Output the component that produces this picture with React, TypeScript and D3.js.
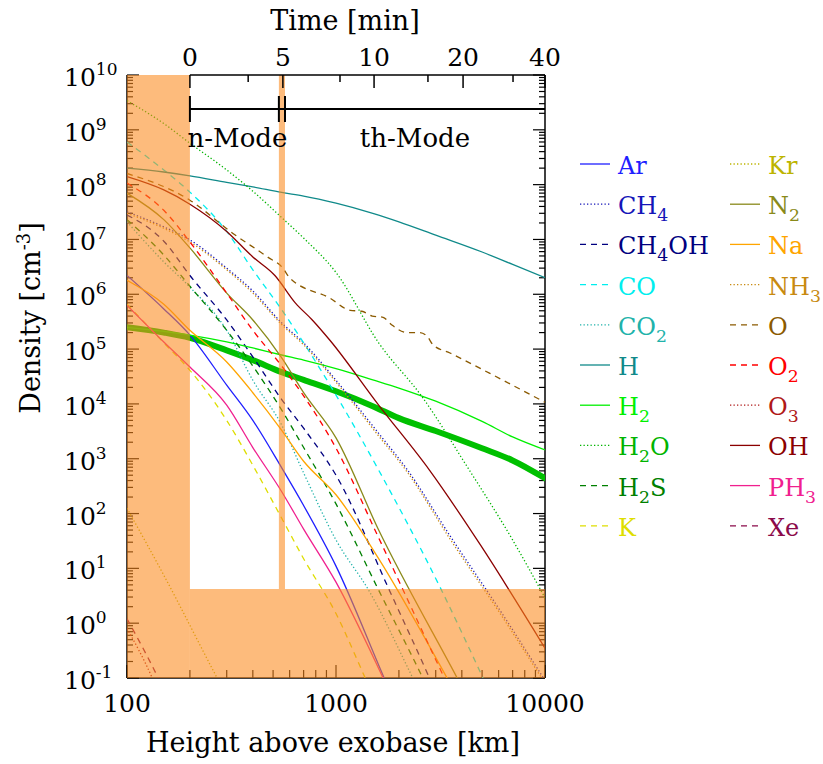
import React, { useEffect, useRef } from 'react'
import * as d3 from 'd3'

// density profiles: [height above exobase km, density cm^-3]
const ar = [[100, 2.2e6], [150, 5.4e5], [200, 1.8e5], [300, 2.2e4], [400, 5.0e3], [550, 6.8e2], [700, 1.4e2], [1000, 1.1e1], [1700, 0.1], [2000, 0.024]]
const ch4 = [[100, 3.2e7], [150, 1.7e7], [200, 9.8e6], [300, 3.0e6], [400, 1.15e6], [550, 3.0e5], [700, 1.3e5], [1000, 2.7e4], [1600, 2.9e3], [2200, 6.2e2], [3500, 4.0e1], [6100, 1.7], [10000, 0.09]]
const ch4oh = [[100, 2.8e7], [150, 9.3e6], [200, 2.2e6], [300, 3.4e5], [400, 7.2e4], [550, 1.2e4], [700, 3.6e3], [1000, 5.0e2], [1800, 4.0], [2800, 0.1], [3300, 0.024]]
const co = [[100, 6.0e8], [150, 1.85e8], [200, 7.3e7], [300, 1.4e7], [400, 2.8e6], [550, 5.2e5], [700, 1.3e5], [1000, 1.45e4], [1600, 6.2e2], [3150, 4.5], [5050, 0.1], [6100, 0.021]]
const co2 = [[100, 2.1e7], [150, 3.9e6], [200, 1.35e6], [300, 2.2e5], [400, 2.7e4], [550, 4.1e3], [700, 5.5e2], [1000, 3.3e1], [1450, 3.7], [2330, 0.1], [2800, 0.024]]
const h = [[100, 2.0e8], [150, 1.7e8], [200, 1.45e8], [300, 1.1e8], [400, 9.1e7], [550, 7.2e7], [700, 6.2e7], [1000, 4.6e7], [1500, 3.0e7], [2000, 2.1e7], [3000, 1.2e7], [5000, 5.9e6], [7000, 3.5e6], [10000, 2.0e6]]
const h2 = [[100, 2.5e5], [150, 2.1e5], [200, 1.8e5], [300, 1.35e5], [400, 1.05e5], [550, 7.8e4], [700, 6.3e4], [1000, 4.4e4], [1500, 2.75e4], [2000, 1.95e4], [3000, 1.12e4], [5000, 4.8e3], [7000, 2.5e3], [10000, 1.45e3]]
const h2o = [[100, 3.4e9], [150, 1.3e9], [200, 5.7e8], [300, 1.85e8], [400, 7.6e7], [550, 2.5e7], [700, 1.06e7], [1000, 2.5e6], [1600, 1.3e5], [2600, 1.3e4], [4200, 7.6e2], [7000, 3.3e1], [10000, 2.9]]
const h2oMonteCarlo = [[100, 2.5e5], [150, 2.0e5], [200, 1.6e5], [300, 9.5e4], [400, 6.3e4], [550, 3.8e4], [700, 2.75e4], [1000, 1.7e4], [1500, 9.1e3], [2000, 5.5e3], [3000, 3.2e3], [5000, 1.55e3], [7000, 9.3e2], [10000, 4.4e2]]
const h2s = [[100, 2.3e7], [150, 5.2e6], [200, 1.4e6], [300, 2.2e5], [400, 4.9e4], [550, 7.7e3], [700, 1.6e3], [1000, 1.5e2], [1600, 4.0], [2600, 0.1], [3100, 0.024]]
const k = [[100, 6.6e5], [150, 1.3e5], [200, 4.1e4], [300, 5.0e3], [400, 7.6e2], [550, 8.2e1], [700, 1.5e1], [1000, 1.5], [1380, 0.1], [1620, 0.026]]
const kr = [[100, 1.25e2], [150, 7.5], [270, 0.1], [330, 0.024]]
const n2 = [[100, 7.0e7], [150, 2.3e7], [200, 7.0e6], [300, 1.05e6], [400, 3.4e5], [550, 6.9e4], [700, 1.6e4], [1000, 2.4e3], [1600, 5.0e1], [3800, 0.1], [4900, 0.016]]
const na = [[100, 1.8e6], [150, 6.6e5], [200, 2.2e5], [300, 5.8e4], [400, 1.6e4], [550, 3.3e3], [700, 9.0e2], [1000, 2.2e2], [1600, 1.5e1], [3400, 0.1], [4400, 0.017]]
const nh3 = [[100, 3.0e7], [150, 1.6e7], [200, 9.0e6], [300, 2.8e6], [400, 1.05e6], [550, 2.8e5], [700, 1.2e5], [1000, 2.5e4], [1600, 2.6e3], [2200, 5.6e2], [3500, 3.5e1], [6100, 1.5], [10000, 0.08]]
const o = [[100, 1.6e8], [200, 5.2e7], [320, 1.3e7], [470, 4.8e6], [557, 3.0e6], [600, 2.0e6], [935, 8.5e5], [1170, 5.1e5], [1330, 4.9e5], [1490, 4.0e5], [1680, 3.8e5], [1850, 2.75e5], [2190, 2.0e5], [2520, 2.0e5], [2750, 1.65e5], [2910, 1.2e5], [3510, 8.5e4], [5450, 3.6e4], [10000, 1.07e4]]
const o2 = [[100, 1.07e8], [150, 3.4e7], [200, 9.0e6], [300, 1.05e6], [400, 2.2e5], [550, 4.9e4], [700, 1.4e4], [1000, 1.56e3], [1600, 3.6e1], [3300, 0.1], [4400, 0.01]]
const o3 = [[100, 0.8], [132, 0.1], [150, 0.03]]
const oh = [[100, 1.4e8], [150, 8.0e7], [200, 4.4e7], [300, 1.4e7], [400, 4.8e6], [510, 2.2e6], [640, 6.9e5], [770, 3.4e5], [935, 1.45e5], [1600, 9.5e3], [2800, 6.2e2], [4900, 2.7e1], [10000, 0.35]]
const ph3 = [[100, 6.3e5], [150, 1.35e5], [200, 4.7e4], [300, 9.5e3], [400, 1.6e3], [550, 2.5e2], [700, 5.2e1], [1000, 5.6], [1680, 0.1], [2000, 0.024]]
const xe = [[100, 1.2], [141, 0.1], [160, 0.036]]

const legendLeft = ['Ar', 'CH4', 'CH4OH', 'CO', 'CO2', 'H', 'H2', 'H2O', 'H2S', 'K']
const legendRight = ['Kr', 'N2', 'Na', 'NH3', 'O', 'O2', 'O3', 'OH', 'PH3', 'Xe']

// time since closest approach [min] vs height [km]
const timeMajor = [[0, 200], [5, 557], [10, 1521], [20, 4055], [40, 10000]]
const timeMinor = [[2.5, 380], [7.5, 1045], [15, 2754], [30, 7031]]

const heightLabels = [100, 1000, 10000]
const densityExponents = [-1, 0, 1, 2, 3, 4, 5, 6, 7, 8, 9, 10]

const preModeKm = [100, 200]
const gapKm = [533, 570]
const detectionLimit = 4.2

const species = [
  { name: 'Ar', data: ar, color: '#1f1fff', dash: 'solid' },
  { name: 'CH4', data: ch4, color: '#1515b8', dash: 'dot' },
  { name: 'CH4OH', data: ch4oh, color: '#000080', dash: 'dash' },
  { name: 'CO', data: co, color: '#00eeee', dash: 'dash' },
  { name: 'CO2', data: co2, color: '#20b2aa', dash: 'dot' },
  { name: 'H', data: h, color: '#108a8a', dash: 'solid' },
  { name: 'H2', data: h2, color: '#00f000', dash: 'solid' },
  { name: 'H2O', data: h2o, color: '#00b400', dash: 'dot' },
  { name: 'H2S', data: h2s, color: '#008000', dash: 'dash' },
  { name: 'K', data: k, color: '#dede00', dash: 'dash' },
  { name: 'Kr', data: kr, color: '#bdb400', dash: 'dot' },
  { name: 'N2', data: n2, color: '#8a8a1a', dash: 'solid' },
  { name: 'Na', data: na, color: '#ffa500', dash: 'solid' },
  { name: 'NH3', data: nh3, color: '#c88a10', dash: 'dot' },
  { name: 'O', data: o, color: '#8b5a00', dash: 'dash' },
  { name: 'O2', data: o2, color: '#ff0000', dash: 'dash' },
  { name: 'O3', data: o3, color: '#b01818', dash: 'dot' },
  { name: 'OH', data: oh, color: '#8b0000', dash: 'solid' },
  { name: 'PH3', data: ph3, color: '#f0208f', dash: 'solid' },
  { name: 'Xe', data: xe, color: '#8b0a4a', dash: 'dash' },
]

const dashes = { solid: null, dot: '1.3 2.2', dash: '6 5' }
const FONT = 'DejaVu Serif'

function chemText(sel, name, size) {
  const parts = name.match(/[A-Za-z]+|\d+/g)
  let low = false
  parts.forEach(p => {
    const num = /\d/.test(p)
    sel.append('tspan')
      .attr('dy', num ? (low ? 0 : 7) : (low ? -7 : 0))
      .attr('font-size', num ? size * 0.72 : size)
      .text(p)
    low = num
  })
}

export default function App() {
  const ref = useRef(null)

  useEffect(() => {
    const svg = d3.select(ref.current)
    svg.selectAll('*').remove()

    const left = 127, right = 545, top = 75, bottom = 678
    const x = d3.scaleLog().domain([100, 10000]).range([left, right])
    const y = d3.scaleLog().domain([0.1, 1e10]).range([bottom, top])

    svg.append('defs').append('clipPath').attr('id', 'plotclip')
      .append('rect').attr('x', left).attr('y', top).attr('width', right - left).attr('height', bottom - top)

    // frame (left/right/bottom); top line only over the time axis
    const axis = svg.append('g').attr('stroke', '#000').attr('stroke-width', 1.5)
    axis.append('line').attr('x1', left).attr('x2', left).attr('y1', top).attr('y2', bottom)
    axis.append('line').attr('x1', right).attr('x2', right).attr('y1', top).attr('y2', bottom)
    axis.append('line').attr('x1', left).attr('x2', right).attr('y1', bottom).attr('y2', bottom)

    const yMinor = []
    densityExponents.forEach(e => {
      if (e >= 10) return
      for (let m = 2; m <= 9; m++) yMinor.push(m * Math.pow(10, e))
    })
    const xMinor = []
    ;[2, 3].forEach(e => { for (let m = 2; m <= 9; m++) xMinor.push(m * Math.pow(10, e)) })

    const ticks = svg.append('g').attr('stroke', '#000').attr('stroke-width', 1.2)
    densityExponents.forEach(e => {
      const v = Math.pow(10, e)
      ticks.append('line').attr('x1', left).attr('x2', left + 12).attr('y1', y(v)).attr('y2', y(v))
      ticks.append('line').attr('x1', right).attr('x2', right - 12).attr('y1', y(v)).attr('y2', y(v))
    })
    yMinor.forEach(v => {
      ticks.append('line').attr('x1', left).attr('x2', left + 6).attr('y1', y(v)).attr('y2', y(v))
      ticks.append('line').attr('x1', right).attr('x2', right - 6).attr('y1', y(v)).attr('y2', y(v))
    })
    heightLabels.forEach(v => {
      ticks.append('line').attr('x1', x(v)).attr('x2', x(v)).attr('y1', bottom).attr('y2', bottom - 13)
    })
    xMinor.forEach(v => {
      ticks.append('line').attr('x1', x(v)).attr('x2', x(v)).attr('y1', bottom).attr('y2', bottom - 8)
    })

    // profiles
    const line = d3.line().x(d => x(d[0])).y(d => y(d[1])).curve(d3.curveMonotoneX)
    const plot = svg.append('g').attr('clip-path', 'url(#plotclip)')
    plot.append('path').datum(h2oMonteCarlo)
      .attr('d', line).attr('fill', 'none').attr('stroke', '#00c000').attr('stroke-width', 6)
      .attr('stroke-linecap', 'round')
    species.forEach(s => {
      plot.append('path').datum(s.data)
        .attr('d', line)
        .attr('fill', 'none')
        .attr('stroke', s.color)
        .attr('stroke-width', 1.3)
        .attr('stroke-dasharray', dashes[s.dash])
    })

    // excluded regions
    const shade = svg.append('g').attr('fill', '#fb8a1e').attr('fill-opacity', 0.58)
    shade.append('rect').attr('x', x(preModeKm[0])).attr('y', top)
      .attr('width', x(preModeKm[1]) - x(preModeKm[0])).attr('height', bottom - top)
    shade.append('rect').attr('x', x(gapKm[0])).attr('y', top)
      .attr('width', x(gapKm[1]) - x(gapKm[0])).attr('height', y(detectionLimit) - top)
    shade.append('rect').attr('x', x(preModeKm[1])).attr('y', y(detectionLimit))
      .attr('width', right - x(preModeKm[1])).attr('height', bottom - y(detectionLimit))

    // top time axis
    const tAxis = svg.append('g').attr('stroke', '#000').attr('stroke-width', 1.5)
    tAxis.append('line').attr('x1', x(timeMajor[0][1])).attr('x2', right).attr('y1', top).attr('y2', top)
    timeMajor.forEach(t => {
      tAxis.append('line').attr('x1', x(t[1])).attr('x2', x(t[1])).attr('y1', top).attr('y2', top + 13)
    })
    timeMinor.forEach(t => {
      tAxis.append('line').attr('x1', x(t[1])).attr('x2', x(t[1])).attr('y1', top).attr('y2', top + 7)
    })

    // mode bracket
    const br = svg.append('g').attr('stroke', '#000').attr('stroke-width', 2)
    const by = 109
    br.append('line').attr('x1', x(preModeKm[1])).attr('x2', right).attr('y1', by).attr('y2', by)
    ;[preModeKm[1], gapKm[0], gapKm[1]].forEach(v => {
      br.append('line').attr('x1', x(v)).attr('x2', x(v)).attr('y1', by - 13).attr('y2', by + 13)
    })

    const txt = svg.append('g').attr('font-family', FONT).attr('fill', '#000')
    txt.append('text').attr('x', (x(preModeKm[1]) + x(gapKm[1])) / 2).attr('y', 147)
      .attr('text-anchor', 'middle').attr('font-size', 26).text('n-Mode')
    txt.append('text').attr('x', (x(gapKm[1]) + right) / 2).attr('y', 147)
      .attr('text-anchor', 'middle').attr('font-size', 26).text('th-Mode')

    timeMajor.forEach(t => {
      txt.append('text').attr('x', x(t[1])).attr('y', 66).attr('text-anchor', 'middle')
        .attr('font-size', 25).text(t[0])
    })
    txt.append('text').attr('x', 345).attr('y', 30).attr('text-anchor', 'middle')
      .attr('font-size', 27).text('Time [min]')

    heightLabels.forEach(v => {
      txt.append('text').attr('x', x(v)).attr('y', 712).attr('text-anchor', 'middle')
        .attr('font-size', 25).text(v)
    })
    txt.append('text').attr('x', 333).attr('y', 752).attr('text-anchor', 'middle')
      .attr('font-size', 27).text('Height above exobase [km]')

    densityExponents.forEach(e => {
      const t = txt.append('text').attr('x', 64).attr('y', y(Math.pow(10, e)) + 11).attr('font-size', 25)
      t.append('tspan').text('10')
      t.append('tspan').attr('dy', -11).attr('font-size', 17).text(e)
    })
    const yt = txt.append('text').attr('transform', 'translate(40,318) rotate(-90)')
      .attr('text-anchor', 'middle').attr('font-size', 27)
    yt.append('tspan').text('Density [cm')
    yt.append('tspan').attr('dy', -10).attr('font-size', 18).text('-3')
    yt.append('tspan').attr('dy', 10).text(']')

    // legend
    const lg = svg.append('g').attr('font-family', FONT)
    ;[[legendLeft, 580], [legendRight, 730]].forEach(([names, lx]) => {
      names.forEach((n, i) => {
        const s = species.find(d => d.name === n)
        const ly = 164 + i * 40.2
        lg.append('line').attr('x1', lx).attr('x2', lx + 30).attr('y1', ly).attr('y2', ly)
          .attr('stroke', s.color).attr('stroke-width', 1.3).attr('stroke-dasharray', dashes[s.dash])
        const t = lg.append('text').attr('x', lx + 38).attr('y', ly + 10).attr('fill', s.color)
        chemText(t, n, 24)
      })
    })
  }, [])

  return (
    <svg ref={ref} width={823} height={764}
      style={{ position: 'absolute', left: 0, top: 0, background: '#fff' }} />
  )
}
